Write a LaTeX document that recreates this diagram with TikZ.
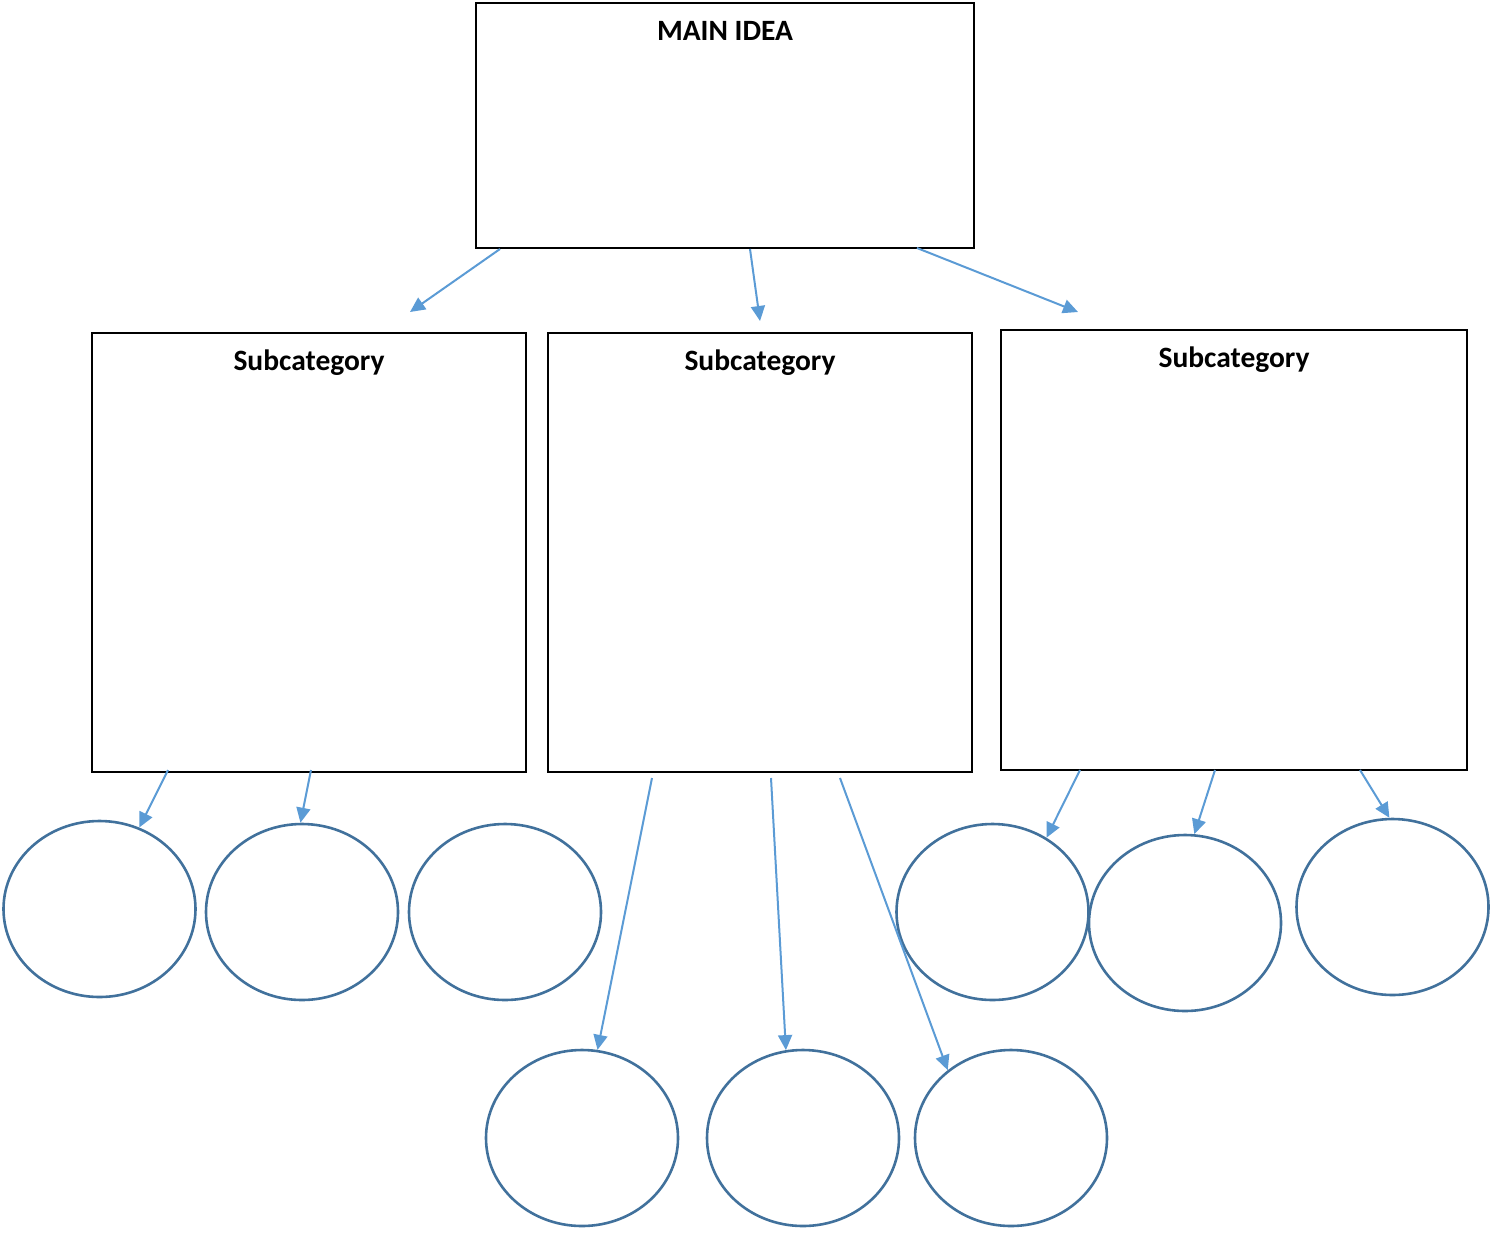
\documentclass[tikz,border=0pt]{standalone}
\usepackage{fontspec}
\setmainfont{Carlito}
\usetikzlibrary{arrows.meta,shapes.geometric}
\definecolor{arrblue}{HTML}{5B9BD5}
\definecolor{ellblue}{HTML}{41719C}
\begin{document}
\begin{tikzpicture}[x=1pt,y=-1pt,
  box/.style={draw=black,line width=2pt,rectangle,inner sep=0pt,anchor=north west},
  bubble/.style={draw=ellblue,line width=2.6pt,ellipse,minimum width=192pt,minimum height=176pt,inner sep=0pt},
  arr/.style={draw=arrblue,line width=2pt,-{Triangle[length=15pt,width=14pt]}},
  ttl/.style={font=\bfseries\fontsize{29.5}{33}\selectfont,inner sep=0pt,anchor=base}
]
\useasboundingbox (0,0) rectangle (1490,1232);
% boxes
\node[box,minimum width=498pt,minimum height=245pt] (main) at (475,2) {};
\node[box,minimum width=434pt,minimum height=439pt] (sub1) at (91,332) {};
\node[box,minimum width=424pt,minimum height=439pt] (sub2) at (547,332) {};
\node[box,minimum width=466pt,minimum height=440pt] (sub3) at (1000,329) {};
% titles
\node[ttl] (tmain) at ([yshift=-38pt]main.north) {MAIN IDEA};
\node[ttl] (tsub1) at ([yshift=-38pt]sub1.north) {Subcategory};
\node[ttl] (tsub2) at ([yshift=-38pt]sub2.north) {Subcategory};
\node[ttl] (tsub3) at ([yshift=-38pt]sub3.north) {Subcategory};
% bubbles
\node[bubble] (e1) at (99.5,909) {};
\node[bubble] (e2) at (302,912) {};
\node[bubble] (e3) at (505,912) {};
\node[bubble] (e4) at (992.5,912) {};
\node[bubble] (e5) at (1185,923) {};
\node[bubble] (e6) at (1392.5,907) {};
\node[bubble] (e7) at (582,1138) {};
\node[bubble] (e8) at (803,1138) {};
\node[bubble] (e9) at (1011,1138) {};
% free ends above the subcategory boxes
\coordinate (t1) at (410,312);
\coordinate (t2) at (760,321);
\coordinate (t3) at (1078,312);
% arrows from main idea
\draw[arr] ([xshift=25pt]main.south west) -- (t1);
\draw[arr] ([xshift=275pt]main.south west) -- (t2);
\draw[arr] ([xshift=442pt,yshift=1pt]main.south west) -- (t3);
% arrows from subcategory 1
\draw[arr] ([xshift=77pt,yshift=3pt]sub1.south west) -- (e1.64);
\draw[arr] ([xshift=220pt,yshift=3pt]sub1.south west) -- (e2.91);
% arrows from subcategory 2
\draw[arr] ([xshift=105pt,yshift=-5pt]sub2.south west) -- (e7.80);
\draw[arr] ([xshift=224pt,yshift=-5pt]sub2.south west) -- (e8.101);
\draw[arr] ([xshift=293pt,yshift=-5pt]sub2.south west) -- (e9.133);
% arrows from subcategory 3
\draw[arr] ([xshift=80pt,yshift=1pt]sub3.south west) -- (e4.54);
\draw[arr] ([xshift=215pt,yshift=1pt]sub3.south west) -- (e5.84);
\draw[arr] ([xshift=360pt,yshift=1pt]sub3.south west) -- (e6.92);
\end{tikzpicture}
\end{document}
